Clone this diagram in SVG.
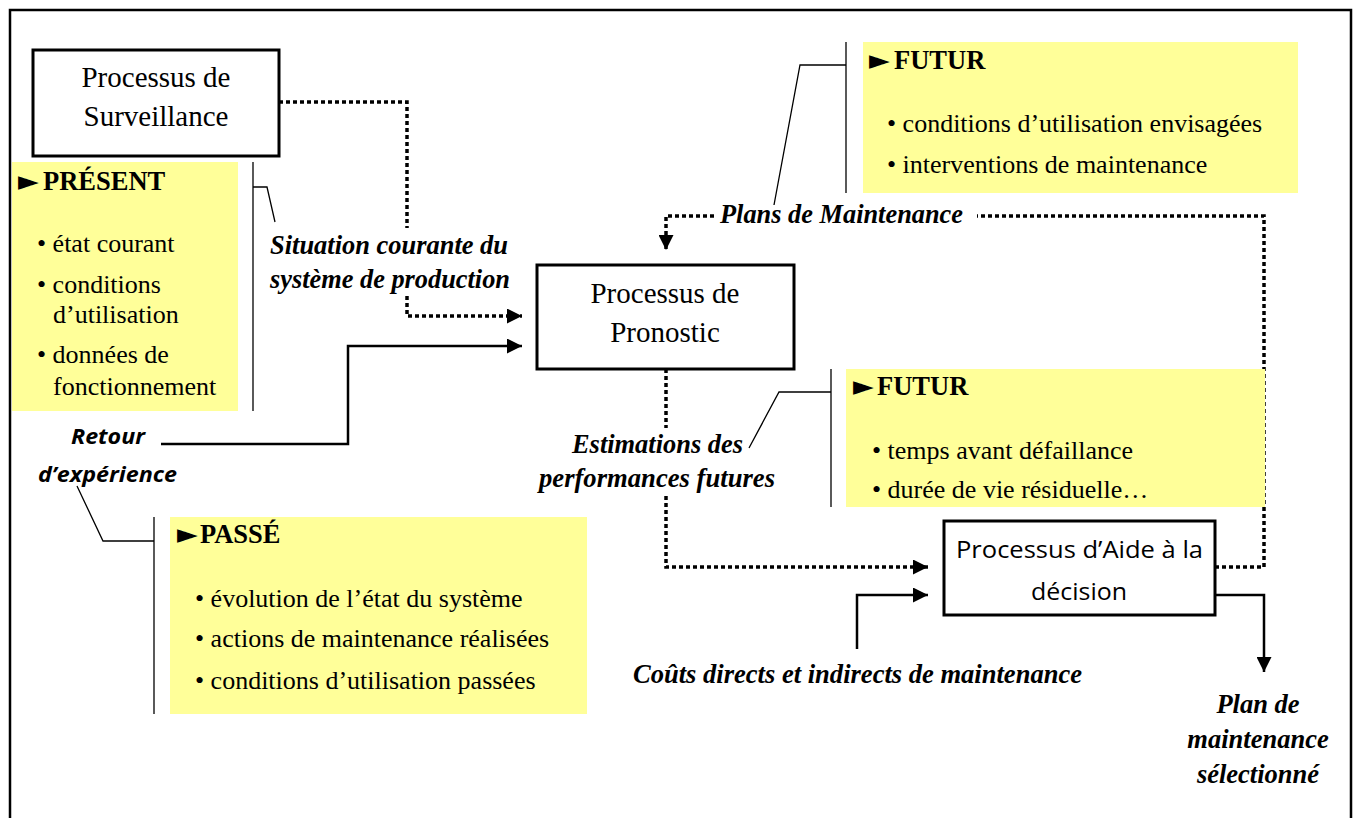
<svg xmlns="http://www.w3.org/2000/svg" width="1360" height="818" viewBox="0 0 1360 818">
<defs>
<marker id="arr" viewBox="0 0 10 10" refX="10" refY="5" markerWidth="15" markerHeight="15" markerUnits="userSpaceOnUse" orient="auto"><path d="M0,0 L10,5 L0,10 z" fill="#000"/></marker>
<style>
.box{fill:#fff;stroke:#000;stroke-width:3}
.note{fill:#FFFF99}
.thin{fill:none;stroke:#000;stroke-width:1.3}
.dot{fill:none;stroke:#000;stroke-width:3.5;stroke-dasharray:4 3}
.solid{fill:none;stroke:#000;stroke-width:2.5}
.t{font-family:"Liberation Serif","Times New Roman",serif;font-size:29px;fill:#000}
.tb{font-family:"Liberation Serif","Times New Roman",serif;font-size:26.5px;font-weight:bold;fill:#000}
.tri{font-family:"DejaVu Sans",sans-serif;font-size:27px;font-weight:normal}
.ti{font-family:"Liberation Serif","Times New Roman",serif;font-size:26.5px;font-weight:bold;font-style:italic;fill:#000}
.tl{font-family:"Liberation Serif","Times New Roman",serif;font-size:26px;fill:#000}
.s{font-family:"Open Sans","Liberation Sans",sans-serif;font-size:24px;fill:#000}
.si{font-family:"Open Sans","Liberation Sans",sans-serif;font-size:21px;font-weight:bold;font-style:italic;fill:#000}
</style>
</defs>
<rect x="0" y="0" width="1360" height="818" fill="#fff"/>
<path d="M10,830 L10,10 L1351,10 L1351,830" fill="none" stroke="#000" stroke-width="2.5"/>

<g id="connectors">
<polyline class="dot" points="279,102 407,102 407,228"/>
<polyline class="dot" points="407,296 407,316 522,316" marker-end="url(#arr)"/>
<polyline class="solid" points="161,444 348,444 348,346 522,346" marker-end="url(#arr)"/>
<polyline class="dot" points="714,216 666,216 666,250" marker-end="url(#arr)"/>
<polyline class="dot" points="1215,567 1264,567 1264,216 977,216"/>
<polyline class="dot" points="666,369 666,428"/>
<polyline class="dot" points="666,496 666,567 928,567" marker-end="url(#arr)"/>
<polyline class="solid" points="857,649 857,595 928,595" marker-end="url(#arr)"/>
<polyline class="solid" points="1215,595 1264,595 1264,672" marker-end="url(#arr)"/>
<!-- callouts -->
<polyline class="thin" points="253,162 253,411"/>
<polyline class="thin" points="253,187 267,187 275,222"/>
<polyline class="thin" points="846,42 846,193"/>
<polyline class="thin" points="846,65 800,65 774,205"/>
<polyline class="thin" points="831,369 831,507"/>
<polyline class="thin" points="831,392 779,392 749,448"/>
<polyline class="thin" points="154,517 154,714"/>
<polyline class="thin" points="154,541 103,541 77,486"/>
</g>

<g id="surveillance">
<rect class="box" x="33" y="50" width="246" height="106"/>
<text class="t" x="156" y="87" text-anchor="middle">Processus de</text>
<text class="t" x="156" y="126" text-anchor="middle">Surveillance</text>
</g>

<g id="present">
<rect class="note" x="12" y="162" width="226" height="249"/>
<text class="tb" x="18" y="190"><tspan class="tri">►</tspan><tspan x="43">PRÉSENT</tspan></text>
<text class="tl" x="37" y="252">• état courant</text>
<text class="tl" x="37" y="293">• conditions</text>
<text class="tl" x="53" y="323">d’utilisation</text>
<text class="tl" x="37" y="363">• données de</text>
<text class="tl" x="53" y="395">fonctionnement</text>
</g>

<g id="situation">
<text class="ti" x="270" y="254" textLength="238" lengthAdjust="spacingAndGlyphs">Situation courante du</text>
<text class="ti" x="270" y="288" textLength="240" lengthAdjust="spacingAndGlyphs">système de production</text>
</g>

<g id="pronostic">
<rect class="box" x="537" y="265" width="257" height="104"/>
<text class="t" x="665" y="303" text-anchor="middle">Processus de</text>
<text class="t" x="665" y="342" text-anchor="middle">Pronostic</text>
</g>

<g id="futur1">
<rect class="note" x="863" y="42" width="435" height="151"/>
<text class="tb" x="869" y="69"><tspan class="tri">►</tspan><tspan x="894">FUTUR</tspan></text>
<text class="tl" x="887" y="132">• conditions d’utilisation envisagées</text>
<text class="tl" x="887" y="173">• interventions de maintenance</text>
</g>

<g id="plans">
<text class="ti" x="720" y="223" textLength="243" lengthAdjust="spacingAndGlyphs">Plans de Maintenance</text>
</g>

<g id="futur2">
<rect class="note" x="846" y="369" width="419" height="138"/>
<text class="tb" x="853" y="395"><tspan class="tri">►</tspan><tspan x="877">FUTUR</tspan></text>
<text class="tl" x="872" y="459">• temps avant défaillance</text>
<text class="tl" x="872" y="498">• durée de vie résiduelle…</text>
</g>

<g id="estimations">
<text class="ti" x="572" y="453" textLength="171" lengthAdjust="spacingAndGlyphs">Estimations des</text>
<text class="ti" x="539" y="487" textLength="236" lengthAdjust="spacingAndGlyphs">performances futures</text>
</g>

<g id="retour">
<text class="si" x="71" y="444" textLength="74" lengthAdjust="spacingAndGlyphs">Retour</text>
<text class="si" x="38" y="482" textLength="139" lengthAdjust="spacingAndGlyphs">d’expérience</text>
</g>

<g id="passe">
<rect class="note" x="170" y="517" width="417" height="197"/>
<text class="tb" x="177" y="543"><tspan class="tri">►</tspan><tspan x="200">PASSÉ</tspan></text>
<text class="tl" x="195" y="607">• évolution de l’état du système</text>
<text class="tl" x="195" y="647">• actions de maintenance réalisées</text>
<text class="tl" x="195" y="689">• conditions d’utilisation passées</text>
</g>

<g id="aide">
<rect class="box" x="944" y="521" width="271" height="94"/>
<text class="s" x="956" y="558" textLength="247" lengthAdjust="spacingAndGlyphs">Processus d’Aide à la</text>
<text class="s" x="1031" y="600" textLength="96" lengthAdjust="spacingAndGlyphs">décision</text>
</g>

<g id="couts">
<text class="ti" x="633" y="683" textLength="449" lengthAdjust="spacingAndGlyphs">Coûts directs et indirects de maintenance</text>
</g>

<g id="plan-selection">
<text class="ti" x="1258" y="713" text-anchor="middle">Plan de</text>
<text class="ti" x="1258" y="748" text-anchor="middle">maintenance</text>
<text class="ti" x="1258" y="783" text-anchor="middle">sélectionné</text>
</g>
</svg>
